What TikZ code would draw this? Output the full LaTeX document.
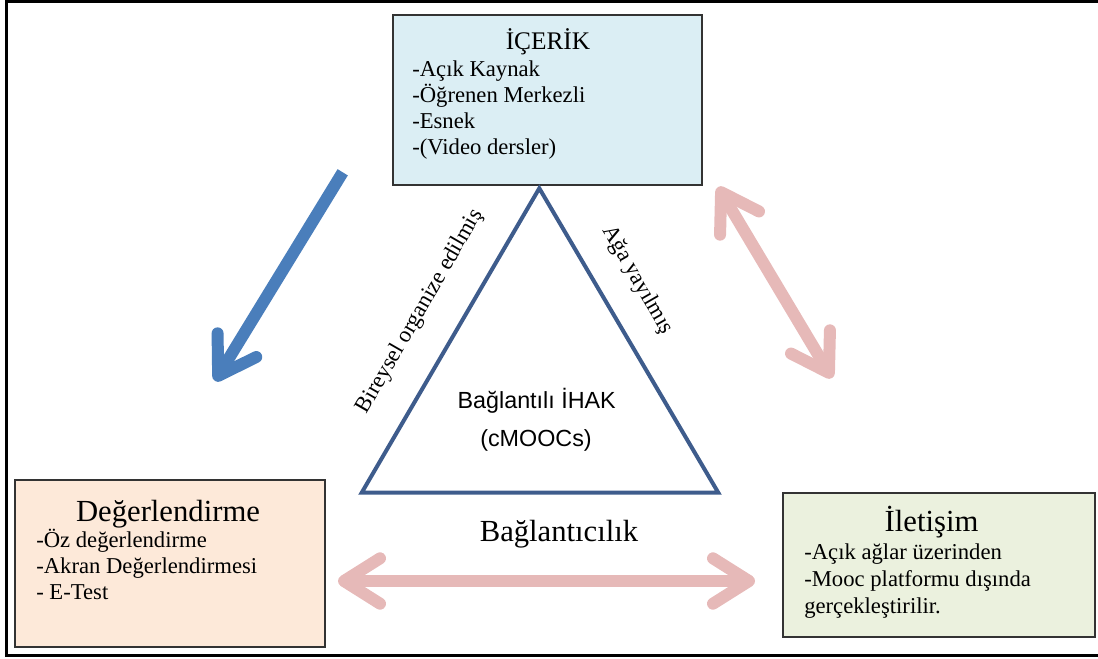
\documentclass[tikz,border=0pt]{standalone}
\usepackage{fontspec}
\setmainfont{Liberation Serif}
\setsansfont{Liberation Sans}
\usetikzlibrary{arrows.meta}

\definecolor{icerikfill}{HTML}{DBEEF4}
\definecolor{degerfill}{HTML}{FDE9D9}
\definecolor{iletfill}{HTML}{EBF1DE}
\definecolor{triblue}{HTML}{3E5C8C}
\definecolor{arrblue}{HTML}{4A7EBB}
\definecolor{arrpink}{HTML}{E6B9B8}

\begin{document}
\begin{tikzpicture}[x=0.75pt, y=-0.75pt,
        box/.style={draw=black!80, line width=1pt, inner sep=0pt},
        title/.style={anchor=base, inner sep=0pt, font=\fontsize{23}{27}\selectfont},
        items/.style={anchor=base west, align=left, inner sep=0pt, font=\fontsize{17}{19.5}\selectfont},
        sidelabel/.style={inner sep=0pt, font=\fontsize{17}{20}\selectfont},
        fatarrow/.style={line width=9pt, >={Straight Barb[length=27pt, width=34pt, round]}}]
        \useasboundingbox (0,0) rectangle (1098,659);
        \draw[line width=2.25pt] (1098,2) -- (6,2) -- (6,655.5) -- (1098,655.5);

        \node[box, fill=icerikfill, minimum width=231.75pt, minimum height=127.5pt] (icerik) at (547.5,100) {};
        \node[title, font=\fontsize{19}{23}\selectfont] (icerikT) at (548,50) {İÇERİK};
        % base west is the last line
        \node[items] (icerikL) at (412,155) {-Açık Kaynak\\-Öğrenen Merkezli\\-Esnek\\-(Video dersler)};

        \node[box, fill=degerfill, minimum width=232.5pt, minimum height=125.25pt] (deger) at (170,563.5) {};
        \node[title] (degerT) at (168,521.5) {Değerlendirme};
        \node[items, font=\fontsize{17}{19.2}\selectfont] (degerL) at (36,599) {-Öz değerlendirme\\-Akran Değerlendirmesi\\- E-Test};

        \node[box, fill=iletfill, minimum width=234pt, minimum height=108pt] (iletisim) at (939,565) {};
        \node[title] (iletisimT) at (931.5,531.5) {İletişim};
        \node[items, font=\fontsize{17}{20}\selectfont] (iletisimL) at (804,613.3) {-Açık ağlar üzerinden\\-Mooc platformu dışında\\gerçekleştirilir.};

        \coordinate (top) at (539.3,188.3);
        \coordinate (left) at (361.7,492.7);
        \coordinate (right) at (718.3,492.7);
        \draw[triblue, line width=3pt] (top) -- (left) -- (right) -- cycle;

        \node[sidelabel, rotate=60] (bireysel) at (420,311.5) {Bireysel organize edilmiş};
        \node[sidelabel, rotate=-60] (aga) at (637.5,280) {Ağa yayılmış};
        \node[anchor=base, inner sep=0pt, font=\sffamily\fontsize{17.5}{20}\selectfont] (ihak) at (536.7,408.3) {Bağlantılı İHAK};
        \node[anchor=base, inner sep=0pt, font=\sffamily\fontsize{17.5}{20}\selectfont] (cmooc) at (536,446) {(cMOOCs)};
        \node[title] (baglanti) at (559,541.5) {Bağlantıcılık};

        \coordinate (b1) at (342.7,172.3);
        \coordinate (b2) at (215,381);
        \draw[fatarrow, arrblue, ->] (b1) -- (b2);
        %
        \coordinate (p1) at (718,187);
        \coordinate (p2) at (832,378);
        \draw[fatarrow, arrpink, <->] (p1) -- (p2);
        %
        \coordinate (h1) at (338,581);
        \coordinate (h2) at (755,581);
        \draw[fatarrow, arrpink, <->] (h1) -- (h2);
\end{tikzpicture}
\end{document}
